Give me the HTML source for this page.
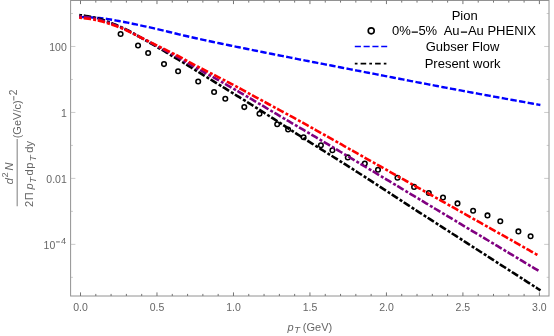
<!DOCTYPE html>
<html><head><meta charset="utf-8"><title>Pion spectrum</title>
<style>html,body{margin:0;padding:0;background:#fff;}body{width:554px;height:336px;overflow:hidden;position:relative;font-family:"Liberation Sans",sans-serif;}</style>
</head><body>
<svg width="554" height="336" viewBox="0 0 554 336" style="display:block;position:absolute;left:0;top:0;will-change:transform">
<rect width="554" height="336" fill="#fff"/>
<g fill="none" stroke="#000" stroke-width="1.55">
<circle cx="120.6" cy="34.0" r="2.28"/>
<circle cx="138.05" cy="45.5" r="2.28"/>
<circle cx="148.15" cy="53.0" r="2.28"/>
<circle cx="164.0" cy="64.1" r="2.28"/>
<circle cx="178.1" cy="71.3" r="2.28"/>
<circle cx="198.2" cy="81.5" r="2.28"/>
<circle cx="214.1" cy="92.0" r="2.28"/>
<circle cx="225.3" cy="98.8" r="2.28"/>
<circle cx="244.3" cy="107.1" r="2.28"/>
<circle cx="259.5" cy="113.7" r="2.28"/>
<circle cx="277.2" cy="124.2" r="2.28"/>
<circle cx="288.1" cy="129.5" r="2.28"/>
<circle cx="303.6" cy="137.3" r="2.28"/>
<circle cx="320.9" cy="145.3" r="2.28"/>
<circle cx="332.4" cy="150.3" r="2.28"/>
<circle cx="347.8" cy="157.4" r="2.28"/>
<circle cx="364.8" cy="163.6" r="2.28"/>
<circle cx="378.0" cy="169.7" r="2.28"/>
<circle cx="397.5" cy="177.7" r="2.28"/>
<circle cx="414.1" cy="186.9" r="2.28"/>
<circle cx="428.8" cy="193.0" r="2.28"/>
<circle cx="443.0" cy="197.5" r="2.28"/>
<circle cx="457.5" cy="203.4" r="2.28"/>
<circle cx="473.1" cy="210.7" r="2.28"/>
<circle cx="487.5" cy="215.4" r="2.28"/>
<circle cx="500.3" cy="221.2" r="2.28"/>
<circle cx="518.4" cy="231.4" r="2.28"/>
<circle cx="530.6" cy="236.2" r="2.28"/>
</g>
<g fill="none" stroke-width="2.6">
<path d="M79.50,17.07L82.41,17.15L84.71,17.21L85.89,17.25M88.28,17.33L90.45,17.42L92.75,17.54L94.66,17.65M97.04,17.83L99.25,18.03L101.55,18.27L103.40,18.49M105.77,18.81L108.06,19.15L110.35,19.51L112.08,19.80M114.43,20.21L116.48,20.57L118.77,20.98L120.72,21.33M123.07,21.77L125.28,22.20L127.58,22.67L129.34,23.03M131.68,23.53L133.70,23.96L136.00,24.45L137.92,24.87M140.26,25.37L142.50,25.84L144.80,26.33L146.51,26.69M148.85,27.19L150.92,27.65L153.22,28.17L155.08,28.59M157.41,29.14L159.34,29.59L161.64,30.14L163.63,30.62M165.95,31.18L168.15,31.72L170.44,32.28L172.16,32.70M174.48,33.26L176.57,33.77L178.86,34.32L180.69,34.75M183.02,35.30L184.99,35.76L187.28,36.29L189.25,36.74M191.58,37.26L193.79,37.76L196.09,38.27L197.81,38.65M200.15,39.16L202.21,39.61L204.51,40.11L206.39,40.51M208.73,41.01L211.01,41.50L213.31,41.99L214.98,42.34M217.32,42.83L219.43,43.27L221.73,43.75L223.58,44.13M225.92,44.61L227.85,45.01L230.15,45.48L232.18,45.90M234.52,46.38L236.66,46.82L238.95,47.29L240.78,47.66M243.12,48.14L245.08,48.53L247.37,49.00L249.38,49.41M251.73,49.88L253.88,50.32L256.18,50.78L257.99,51.14M260.33,51.62L262.30,52.01L264.60,52.47L266.60,52.87M268.94,53.34L271.10,53.77L273.40,54.23L275.21,54.59M277.55,55.05L279.52,55.45L281.82,55.90L283.82,56.30M286.17,56.76L288.33,57.19L290.62,57.65L292.43,58.00M294.78,58.47L296.75,58.86L299.04,59.31L301.05,59.71M303.39,60.17L305.55,60.59L307.84,61.04L309.66,61.39M312.01,61.85L313.97,62.22L316.27,62.67L318.28,63.06M320.63,63.51L322.77,63.92L325.07,64.36L326.91,64.72M329.25,65.17L331.19,65.54L333.49,65.99L335.53,66.38M337.87,66.84L339.99,67.25L342.29,67.70L344.14,68.06M346.49,68.52L348.41,68.89L350.71,69.34L352.76,69.74M355.11,70.20L357.22,70.61L359.51,71.05L361.38,71.41M363.73,71.87L366.02,72.31L368.32,72.76L370.00,73.08M372.35,73.54L374.44,73.94L376.74,74.39L378.62,74.75M380.97,75.21L383.24,75.65L385.54,76.10L387.24,76.42M389.59,76.88L391.66,77.28L393.96,77.73L395.86,78.10M398.21,78.55L400.47,78.99L402.76,79.44L404.48,79.77M406.83,80.22L408.89,80.62L411.18,81.07L413.10,81.43M415.45,81.89L417.69,82.32L419.99,82.76L421.72,83.09M424.07,83.54L426.11,83.93L428.41,84.37L430.35,84.74M432.69,85.19L434.91,85.61L437.21,86.04L438.97,86.38M441.32,86.82L443.33,87.20L445.63,87.64L447.60,88.01M449.95,88.45L452.14,88.86L454.43,89.29L456.23,89.63M458.58,90.07L460.56,90.44L462.85,90.87L464.86,91.24M467.21,91.68L469.36,92.08L471.66,92.51L473.49,92.85M475.84,93.28L477.78,93.64L480.08,94.07L482.12,94.44M484.47,94.88L486.58,95.26L488.88,95.69L490.76,96.03M493.11,96.46L495.39,96.88L497.68,97.30L499.40,97.61M501.75,98.04L503.81,98.41L506.10,98.83L508.04,99.18M510.39,99.60L512.61,100.00L514.90,100.42L516.68,100.74M519.03,101.16L521.03,101.52L523.33,101.93L525.32,102.29M527.67,102.71L529.83,103.10L532.13,103.51L533.96,103.83M536.31,104.25L538.25,104.60L540.38,104.97" stroke="#0000ff" stroke-width="2.4"/>
<path d="M79.21,15.02L80.50,15.20L80.88,15.25L81.27,15.31L81.65,15.36L81.99,15.41M83.74,15.65L85.86,15.95L88.15,16.29L90.45,16.66L91.02,16.76M93.15,17.16L95.43,17.66L96.08,17.81M97.79,18.25L100.02,18.91L102.32,19.67L104.61,20.51L104.77,20.57M106.80,21.35L108.82,22.14L109.59,22.44M111.24,23.08L113.42,23.93L115.71,24.83L118.01,25.76L118.09,25.79M120.08,26.64L122.22,27.58L122.82,27.86M124.42,28.61L126.43,29.58L128.72,30.77L130.97,31.99M132.85,33.05L134.85,34.20L135.45,34.55M136.99,35.43L139.06,36.62L141.35,37.92L143.39,39.07M145.27,40.14L147.48,41.40L147.88,41.63M149.41,42.51L151.69,43.82L153.99,45.15L155.78,46.20M157.65,47.30L159.73,48.51L160.24,48.82M161.76,49.71L163.94,50.99L166.23,52.36L168.10,53.47M169.96,54.58L171.97,55.79L172.53,56.12M174.05,57.03L176.18,58.32L178.48,59.71L180.35,60.85M182.20,61.97L184.22,63.20L184.76,63.53M186.27,64.46L188.43,65.78L190.73,67.20L192.54,68.33M194.38,69.47L196.47,70.78L196.92,71.06M198.42,72.00L200.68,73.41L202.98,74.83L204.68,75.89M206.52,77.02L206.80,77.20L207.19,77.43L207.57,77.67L207.95,77.90L208.33,78.14L208.72,78.37L209.08,78.59M210.58,79.51L212.54,80.71L214.84,82.12L216.87,83.36M218.71,84.49L219.05,84.70L219.43,84.93L219.82,85.17L220.20,85.40L220.58,85.64L220.96,85.87L221.27,86.06M222.77,86.99L224.79,88.23L227.09,89.65L229.04,90.86M230.89,91.99L232.83,93.19L233.44,93.57M234.95,94.49L237.04,95.78L239.34,97.19L241.22,98.35M243.07,99.49L245.08,100.73L245.62,101.07M247.12,102.00L249.29,103.34L251.58,104.77L253.37,105.89M255.21,107.05L257.32,108.38L257.74,108.65M259.24,109.59L261.15,110.81L263.45,112.27L265.45,113.56M267.27,114.73L269.19,115.97L269.79,116.36M271.27,117.32L273.40,118.70L275.70,120.20L277.44,121.34M279.26,122.52L279.52,122.69L279.91,122.94L280.29,123.19L280.67,123.43L281.05,123.68L281.44,123.93L281.78,124.15M283.26,125.11L285.26,126.41L287.56,127.89L289.45,129.11M291.27,130.28L293.30,131.59L293.79,131.90M295.28,132.86L297.51,134.29L299.81,135.76L301.48,136.83M303.31,138.00L303.63,138.20L304.02,138.45L304.40,138.69L304.78,138.93L305.17,139.18L305.55,139.42L305.84,139.61M307.33,140.55L309.38,141.85L311.67,143.29L313.56,144.48M315.40,145.64L317.41,146.90L317.94,147.23M319.44,148.17L321.62,149.54L323.92,150.98L325.68,152.08M327.51,153.23L329.66,154.59L330.05,154.83M331.55,155.77L333.49,156.99L335.78,158.44L337.79,159.69M339.62,160.84L339.99,161.07L340.38,161.31L340.76,161.55L341.14,161.79L341.53,162.03L341.91,162.27L342.16,162.43M343.66,163.37L345.74,164.68L348.03,166.12L349.89,167.30M351.72,168.46L353.77,169.78L354.25,170.08M355.73,171.04L357.98,172.48L360.28,173.97L361.92,175.03M363.74,176.21L364.11,176.44L364.49,176.69L364.87,176.94L365.26,177.19L365.64,177.43L366.02,177.68L366.26,177.84M367.74,178.80L369.85,180.16L372.14,181.65L373.92,182.81M375.74,183.99L375.97,184.14L376.35,184.39L376.74,184.64L377.12,184.88L377.50,185.13L377.89,185.38L378.26,185.62M379.74,186.58L381.71,187.86L384.01,189.35L385.92,190.59M387.73,191.77L389.75,193.09L390.25,193.41M391.73,194.38L393.96,195.84L396.26,197.34L397.89,198.41M399.70,199.60L401.62,200.86L402.21,201.25M403.69,202.22L405.83,203.62L408.12,205.12L409.85,206.25M411.67,207.43L411.95,207.62L412.33,207.87L412.71,208.12L413.10,208.37L413.48,208.61L413.86,208.86L414.18,209.07M415.66,210.03L417.69,211.34L419.99,212.82L421.86,214.02M423.68,215.19L425.73,216.51L426.20,216.81M427.69,217.77L429.94,219.21L432.23,220.69L433.89,221.75M435.71,222.92L436.06,223.15L436.44,223.40L436.83,223.64L437.21,223.89L437.59,224.13L437.98,224.38L438.23,224.55M439.72,225.50L441.80,226.84L444.10,228.32L445.91,229.49M447.73,230.66L449.84,232.02L450.26,232.28M451.74,233.24L453.67,234.48L455.96,235.96L457.94,237.23M459.76,238.40L461.70,239.66L462.28,240.03M463.77,240.98L465.91,242.37L468.21,243.85L469.96,244.97M471.78,246.15L472.04,246.31L472.42,246.56L472.80,246.81L473.19,247.05L473.57,247.30L473.95,247.55L474.30,247.77M475.79,248.73L477.78,250.01L480.08,251.49L481.98,252.72M483.80,253.89L485.82,255.19L486.32,255.52M487.81,256.47L490.03,257.91L492.32,259.39L494.00,260.46M495.82,261.64L496.15,261.85L496.53,262.10L496.92,262.35L497.30,262.59L497.68,262.84L498.06,263.09L498.34,263.26M499.83,264.22L501.89,265.55L504.19,267.03L506.02,268.21M507.84,269.38L509.93,270.73L510.36,271.01M511.85,271.97L514.14,273.44L516.44,274.92L518.04,275.95M519.86,277.13L521.79,278.37L522.39,278.75M523.87,279.71L526.00,281.08L528.30,282.56L530.06,283.69M531.89,284.87L532.13,285.02L532.51,285.27L532.89,285.51L533.28,285.76L533.66,286.01L534.04,286.25L534.41,286.49M535.90,287.45L537.87,288.72L540.49,290.40" stroke="#000"/>
<path d="M79.20,16.34L80.50,16.45L80.88,16.48L81.27,16.52L81.65,16.55L81.99,16.58M83.75,16.76L85.86,17.01L88.15,17.33L90.45,17.69L91.04,17.80M93.17,18.21L95.43,18.70L96.10,18.86M97.81,19.29L100.02,19.91L102.32,20.62L104.61,21.38L104.85,21.47M106.89,22.18L108.82,22.87L109.72,23.20M111.38,23.80L113.42,24.54L115.71,25.40L118.01,26.29L118.27,26.40M120.28,27.22L122.22,28.05L123.03,28.41M124.64,29.14L126.81,30.16L129.11,31.30L131.24,32.41M133.15,33.43L135.23,34.56L135.79,34.85M137.35,35.69L139.44,36.80L141.74,38.00L143.87,39.10M145.80,40.10L147.86,41.17L148.46,41.48M150.02,42.30L152.07,43.38L154.37,44.60L156.53,45.75M158.45,46.77L160.49,47.86L161.09,48.18M162.65,49.02L164.70,50.12L167.00,51.35L169.14,52.51M171.04,53.54L173.12,54.66L173.68,54.97M175.23,55.81L177.33,56.97L179.63,58.25L181.66,59.41M183.54,60.49L185.75,61.77L186.14,61.99M187.66,62.88L189.58,64.00L191.88,65.34L194.03,66.58M195.91,67.66L198.00,68.86L198.52,69.15M200.05,70.02L202.21,71.23L204.51,72.51L206.49,73.60M208.39,74.64L210.63,75.86L211.03,76.07M212.58,76.92L214.84,78.15L217.14,79.42L219.03,80.47M220.93,81.52L222.88,82.62L223.54,82.99M225.08,83.86L227.09,85.01L229.38,86.32L231.48,87.51M233.36,88.59L235.51,89.84L235.95,90.09M237.48,90.98L239.72,92.28L242.01,93.61L243.85,94.68M245.72,95.78L247.76,96.98L248.31,97.30M249.83,98.20L251.97,99.46L254.26,100.82L256.17,101.95M258.03,103.06L260.00,104.23L260.61,104.59M262.13,105.49L264.21,106.73L266.51,108.09L268.46,109.25M270.33,110.35L272.25,111.50L272.91,111.89M274.43,112.79L276.46,113.99L278.76,115.35L280.77,116.53M282.64,117.63L282.97,117.83L283.35,118.05L283.73,118.28L284.12,118.50L284.50,118.73L284.88,118.95L285.22,119.15M286.74,120.05L288.71,121.20L291.00,122.55L293.10,123.78M294.97,124.88L297.13,126.15L297.55,126.40M299.07,127.29L301.34,128.63L303.63,129.99L305.42,131.04M307.28,132.14L309.38,133.38L309.87,133.67M311.39,134.56L313.59,135.86L315.88,137.21L317.74,138.30M319.60,139.40L321.62,140.59L322.19,140.92M323.71,141.82L325.83,143.08L328.13,144.44L330.05,145.57M331.91,146.68L333.87,147.85L334.49,148.22M336.00,149.12L338.08,150.37L340.38,151.75L342.32,152.92M344.18,154.03L346.12,155.20L346.75,155.58M348.26,156.49L350.33,157.74L352.63,159.12L354.57,160.29M356.43,161.41L358.37,162.57L359.00,162.95M360.51,163.86L362.58,165.10L364.87,166.49L366.83,167.66M368.68,168.78L370.61,169.94L371.25,170.32M372.77,171.23L374.82,172.47L377.12,173.85L379.08,175.03M380.94,176.15L382.86,177.30L383.51,177.69M385.02,178.60L387.07,179.83L389.37,181.21L391.34,182.40M393.19,183.51L395.11,184.66L395.77,185.06M397.28,185.97L399.32,187.19L401.62,188.57L403.60,189.76M405.45,190.87L405.83,191.10L406.21,191.33L406.59,191.56L406.97,191.79L407.36,192.02L407.74,192.25L408.03,192.42M409.54,193.33L411.57,194.54L413.86,195.92L415.86,197.12M417.71,198.23L418.07,198.45L418.46,198.68L418.84,198.91L419.22,199.14L419.60,199.37L419.99,199.60L420.29,199.78M421.80,200.69L423.81,201.89L426.11,203.27L428.12,204.48M429.98,205.59L430.32,205.80L430.70,206.03L431.09,206.26L431.47,206.49L431.85,206.72L432.23,206.95L432.55,207.14M434.06,208.04L436.06,209.24L438.36,210.62L440.38,211.83M442.24,212.95L442.57,213.15L442.95,213.37L443.33,213.60L443.72,213.83L444.10,214.06L444.48,214.29L444.81,214.49M446.33,215.40L448.31,216.59L450.61,217.97L452.64,219.19M454.50,220.30L454.82,220.49L455.20,220.72L455.58,220.95L455.96,221.18L456.35,221.41L456.73,221.64L457.08,221.85M458.59,222.76L460.56,223.94L462.85,225.31L464.91,226.55M466.77,227.66L467.06,227.84L467.45,228.07L467.83,228.30L468.21,228.53L468.59,228.76L468.98,228.99L469.34,229.20M470.85,230.11L472.80,231.28L475.10,232.66L477.17,233.90M479.03,235.02L479.31,235.19L479.69,235.42L480.08,235.65L480.46,235.88L480.84,236.10L481.22,236.33L481.60,236.56M483.12,237.47L485.05,238.63L487.35,240.01L489.43,241.26M491.29,242.38L493.47,243.69L493.86,243.92M495.38,244.83L497.30,245.98L499.60,247.36L501.69,248.62M503.55,249.74L505.72,251.04L506.12,251.28M507.63,252.19L509.93,253.57L512.23,254.95L513.95,255.99M515.81,257.10L517.97,258.40L518.38,258.65M519.89,259.56L522.18,260.93L524.47,262.32L526.20,263.36M528.06,264.47L530.21,265.77L530.63,266.02M532.14,266.93L534.42,268.30L536.72,269.69L538.46,270.73" stroke="#800080"/>
<path d="M79.21,17.64L80.50,17.80L80.88,17.85L81.27,17.90L81.65,17.94L81.99,17.98M83.74,18.20L85.86,18.46L88.15,18.75L90.45,19.06L91.05,19.15M93.19,19.49L95.43,19.89L96.14,20.03M97.87,20.39L100.02,20.90L102.32,21.53L104.61,22.22L104.97,22.34M107.03,23.00L109.21,23.73L109.88,23.96M111.55,24.53L113.80,25.30L116.09,26.12L118.39,26.97L118.48,27.01M120.50,27.80L122.60,28.67L123.27,28.96M124.88,29.67L126.81,30.55L129.11,31.65L131.40,32.79L131.53,32.85M133.46,33.83L135.61,34.92L136.14,35.18M137.72,35.97L139.82,37.01L142.12,38.14L144.33,39.22M146.27,40.18L148.24,41.16L148.96,41.52M150.54,42.30L152.84,43.43L155.13,44.56L157.15,45.56M159.09,46.52L161.26,47.59L161.78,47.85M163.36,48.64L165.47,49.68L167.76,50.82L169.96,51.91M171.91,52.87L173.89,53.85L174.59,54.20M176.17,55.00L178.10,55.99L180.39,57.19L182.69,58.43M184.58,59.48L186.52,60.55L187.21,60.93M188.75,61.79L190.73,62.87L193.02,64.11L195.24,65.28M197.16,66.28L199.15,67.30L199.83,67.65M201.40,68.46L203.36,69.45L205.65,70.62L207.95,71.79L207.97,71.80M209.90,72.79L212.16,73.95L212.57,74.15M214.14,74.96L216.37,76.11L218.67,77.30L220.68,78.34M222.61,79.33L224.79,80.46L225.27,80.71M226.84,81.53L229.00,82.66L231.30,83.87L233.36,84.96M235.27,85.98L237.42,87.14L237.91,87.40M239.47,88.24L241.63,89.41L243.93,90.66L245.94,91.76M247.84,92.80L250.05,94.02L250.47,94.24M252.02,95.09L254.26,96.33L256.56,97.58L258.48,98.64M260.38,99.67L262.30,100.72L263.01,101.11M264.56,101.95L266.51,103.01L268.81,104.25L271.04,105.46M272.95,106.49L274.93,107.55L275.59,107.91M277.15,108.75L279.14,109.83L281.44,111.07L283.62,112.26M285.53,113.29L287.56,114.40L288.16,114.73M289.71,115.57L291.77,116.70L294.07,117.96L296.17,119.12M298.07,120.17L300.19,121.34L300.69,121.62M302.24,122.48L304.40,123.68L306.70,124.96L308.67,126.06M310.56,127.12L310.91,127.31L311.29,127.53L311.67,127.74L312.06,127.95L312.44,128.17L312.82,128.38L313.18,128.58M314.72,129.45L316.65,130.52L318.94,131.81L321.15,133.05M323.04,134.11L325.07,135.24L325.66,135.57M327.20,136.44L329.28,137.61L331.57,138.90L333.62,140.05M335.50,141.12L337.70,142.35L338.12,142.59M339.66,143.46L341.91,144.73L344.20,146.03L346.07,147.08M347.96,148.15L349.95,149.27L350.57,149.62M352.11,150.49L354.16,151.65L356.45,152.94L358.52,154.11M360.41,155.18L362.58,156.40L363.02,156.65M364.56,157.52L366.79,158.78L369.08,160.07L370.98,161.14M372.86,162.20L374.82,163.31L375.48,163.68M377.01,164.55L379.03,165.68L381.33,166.98L383.43,168.16M385.32,169.23L387.45,170.43L387.93,170.70M389.47,171.57L391.66,172.80L393.96,174.10L395.89,175.18M397.78,176.25L399.70,177.33L400.39,177.72M401.93,178.59L403.91,179.70L406.21,181.00L408.35,182.20M410.24,183.27L412.33,184.44L412.85,184.74M414.39,185.60L416.54,186.81L418.84,188.11L420.81,189.22M422.70,190.28L423.05,190.48L423.43,190.69L423.81,190.91L424.20,191.12L424.58,191.34L424.96,191.55L425.31,191.75M426.85,192.62L428.79,193.71L431.09,195.00L433.27,196.23M435.16,197.29L437.21,198.45L437.78,198.76M439.32,199.63L441.42,200.81L443.72,202.11L445.74,203.24M447.62,204.31L449.84,205.55L450.24,205.78M451.78,206.64L454.05,207.92L456.35,209.21L458.20,210.26M460.09,211.32L462.09,212.45L462.70,212.79M464.24,213.66L466.30,214.82L468.59,216.11L470.66,217.27M472.55,218.33L474.72,219.56L475.16,219.81M476.70,220.67L478.93,221.93L481.22,223.22L483.12,224.29M485.01,225.35L486.97,226.45L487.62,226.82M489.16,227.69L491.18,228.83L493.47,230.12L495.58,231.31M497.46,232.37L499.60,233.57L500.08,233.84M501.62,234.71L503.81,235.95L506.10,237.24L508.03,238.33M509.92,239.40L511.84,240.48L512.53,240.87M514.07,241.74L516.05,242.86L518.35,244.15L520.49,245.36M522.37,246.43L524.47,247.61L524.99,247.90M526.52,248.77L528.68,249.99L530.98,251.29L532.94,252.39M534.82,253.46L535.19,253.67L535.57,253.89L535.96,254.10L536.34,254.32L536.72,254.53L537.10,254.75L537.43,254.94" stroke="#ff0000"/>
</g>
<g stroke="#929292" stroke-width="1" fill="none">
<rect x="70.6" y="0.5" width="478.4" height="295.5"/>
<path d="M80.50,296.0v-3.6 M80.50,0.5v3.6 M95.80,296.0v-2.1 M95.80,0.5v2.1 M111.09,296.0v-2.1 M111.09,0.5v2.1 M126.39,296.0v-2.1 M126.39,0.5v2.1 M141.69,296.0v-2.1 M141.69,0.5v2.1 M156.98,296.0v-3.6 M156.98,0.5v3.6 M172.28,296.0v-2.1 M172.28,0.5v2.1 M187.58,296.0v-2.1 M187.58,0.5v2.1 M202.87,296.0v-2.1 M202.87,0.5v2.1 M218.17,296.0v-2.1 M218.17,0.5v2.1 M233.47,296.0v-3.6 M233.47,0.5v3.6 M248.76,296.0v-2.1 M248.76,0.5v2.1 M264.06,296.0v-2.1 M264.06,0.5v2.1 M279.36,296.0v-2.1 M279.36,0.5v2.1 M294.65,296.0v-2.1 M294.65,0.5v2.1 M309.95,296.0v-3.6 M309.95,0.5v3.6 M325.25,296.0v-2.1 M325.25,0.5v2.1 M340.54,296.0v-2.1 M340.54,0.5v2.1 M355.84,296.0v-2.1 M355.84,0.5v2.1 M371.14,296.0v-2.1 M371.14,0.5v2.1 M386.43,296.0v-3.6 M386.43,0.5v3.6 M401.73,296.0v-2.1 M401.73,0.5v2.1 M417.03,296.0v-2.1 M417.03,0.5v2.1 M432.32,296.0v-2.1 M432.32,0.5v2.1 M447.62,296.0v-2.1 M447.62,0.5v2.1 M462.92,296.0v-3.6 M462.92,0.5v3.6 M478.21,296.0v-2.1 M478.21,0.5v2.1 M493.51,296.0v-2.1 M493.51,0.5v2.1 M508.81,296.0v-2.1 M508.81,0.5v2.1 M524.10,296.0v-2.1 M524.10,0.5v2.1 M539.40,296.0v-3.6 M539.40,0.5v3.6" stroke="#747474"/>
</g>
<path d="M70.6,277.34h2.3 M549.0,277.34h-2.3 M70.6,244.36h4.8 M549.0,244.36h-4.8 M70.6,211.38h2.3 M549.0,211.38h-2.3 M70.6,178.40h4.8 M549.0,178.40h-4.8 M70.6,145.42h2.3 M549.0,145.42h-2.3 M70.6,112.44h4.8 M549.0,112.44h-4.8 M70.6,79.46h2.3 M549.0,79.46h-2.3 M70.6,46.48h4.8 M549.0,46.48h-4.8 M70.6,13.50h2.3 M549.0,13.50h-2.3" stroke="#a8a8a8" stroke-width="0.6" fill="none"/>
<g font-family="Liberation Sans, sans-serif" font-size="10.5" fill="#666">
<text x="80.50" y="310.9" text-anchor="middle">0.0</text>
<text x="156.98" y="310.9" text-anchor="middle">0.5</text>
<text x="233.47" y="310.9" text-anchor="middle">1.0</text>
<text x="309.95" y="310.9" text-anchor="middle">1.5</text>
<text x="386.43" y="310.9" text-anchor="middle">2.0</text>
<text x="462.92" y="310.9" text-anchor="middle">2.5</text>
<text x="539.40" y="310.9" text-anchor="middle">3.0</text>
<text x="66.8" y="51.08" text-anchor="end">100</text>
<text x="66.8" y="117.04" text-anchor="end">1</text>
<text x="66.8" y="183.00" text-anchor="end">0.01</text>
<text x="43.6" y="248.66">10</text><text x="61.1" y="244.46" font-size="9.3">4</text>
<path d="M56.0,241.91h3.9" stroke="#666" stroke-width="0.95" fill="none"/>
<text x="287.4" y="330.7" font-size="11"><tspan font-style="italic">p</tspan><tspan font-size="9.3" font-style="italic" dx="0.7" dy="2.7">T</tspan><tspan dy="-2.7" dx="2.9">(GeV)</tspan></text>
<g transform="rotate(-90)" font-size="11">
<text x="-184.2" y="12.7"><tspan font-style="italic">d</tspan><tspan font-size="9.3" dy="-4.7" dx="0.6">2</tspan><tspan font-style="italic" dy="4.7" dx="1.9">N</tspan></text>
<text x="-206.9" y="32.5" font-size="11.1">2<tspan dx="0.5">Π</tspan><tspan font-style="italic" dx="2.6">p</tspan><tspan font-size="9.8" font-style="italic" dx="0.4" dy="3.3">T</tspan><tspan dy="-3.3" dx="1.6">d</tspan><tspan dx="0.6">p</tspan><tspan font-size="9.8" font-style="italic" dx="1.2" dy="3.3">T</tspan><tspan dy="-3.3" dx="2.6">dy</tspan></text>
<text x="-138.3" y="21.0">(GeV/c)</text><text x="-95.2" y="17.0" font-size="10.2">2</text>
<path d="M-100.5,13.8h4.4" stroke="#666" stroke-width="0.95" fill="none"/>
</g>
</g>
<path d="M17.2,139.1V206.3" stroke="#929292" stroke-width="1.2" fill="none"/>
<g font-family="Liberation Sans, sans-serif" font-size="13" fill="#000">
<text x="464.7" y="20.1" text-anchor="middle">Pion</text>
<text y="35.4" xml:space="preserve"><tspan x="392.0">0%</tspan><tspan x="418.4">5%  Au</tspan><tspan x="467.9">Au PHENIX</tspan></text>
<path d="M411.7,32.05h6.2M460.9,32.05h6.2" stroke="#000" stroke-width="1.15" fill="none"/>
<text x="462.6" y="50.6" text-anchor="middle">Gubser Flow</text>
<text x="462.6" y="67.7" text-anchor="middle">Present work</text>
</g>
<circle cx="371.2" cy="30.8" r="3.0" fill="none" stroke="#000" stroke-width="1.65"/>
<path d="M354.8,46.4H387.2" stroke="#0000ff" stroke-width="1.5" stroke-dasharray="6.1 2.7" fill="none"/>
<path d="M354.8,63.6H386.4" stroke="#000" stroke-width="1.6" stroke-dasharray="2.7 3.1 5.6 3.1" fill="none"/>
</svg>
</body></html>
